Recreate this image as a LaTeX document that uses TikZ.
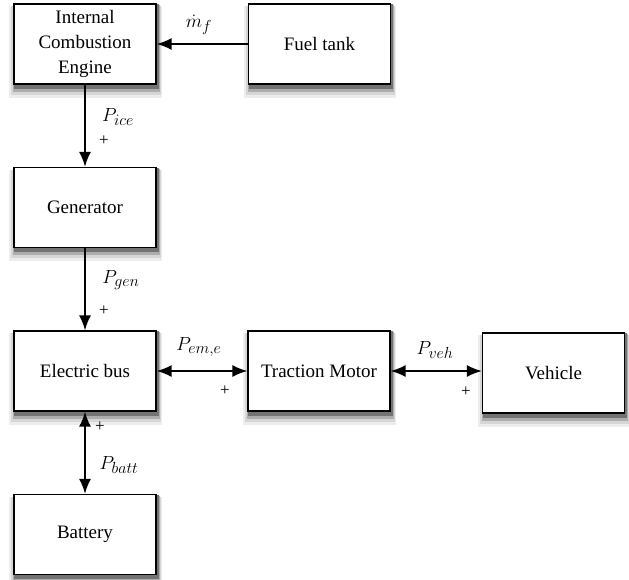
\documentclass[tikz,border=0pt]{standalone}
\usepackage{fix-cm}
\usepackage{fontspec}
\setmainfont{Liberation Serif}
\DeclareMathSizes{19}{19}{16}{12}
\usetikzlibrary{arrows.meta,positioning,backgrounds}
\tikzset{
  block/.style={draw=black, line width=1.4pt, fill=white,
                minimum width=142pt, minimum height=80pt,
                inner sep=2pt, align=center,
                font=\fontsize{19}{25}\selectfont},
  flow/.style={-{Latex[length=15pt,width=12pt]}, line width=1.5pt},
  both/.style={{Latex[length=15pt,width=12pt]}-{Latex[length=15pt,width=12pt]},
               line width=1.5pt},
  lab/.style={font=\fontsize{19}{22}\selectfont},
  sign/.style={font=\fontsize{17}{17}\selectfont},
}
\begin{document}
\begin{tikzpicture}[x=1pt,y=-1pt]
  \path[use as bounding box] (0,0) rectangle (629,580);

  % Blocks.
  \node[block] (ICE) at (85,44) {Internal\\Combustion\\Engine};
  \node[block] (FUEL) at (319.5,44) {Fuel tank};
  \node[block] (GEN) at (85,207.5) {Generator};
  \node[block] (BUS) at (85,371) {Electric bus};
  \node[block] (TM) at (319,371) {Traction Motor};
  \node[block] (VEH) at (553.5,373) {Vehicle};
  \node[block] (BATT) at (85,534.5) {Battery};

  % Soft shadows under the blocks.
  \begin{scope}[on background layer]
    \foreach \b in {ICE,FUEL,GEN,BUS,TM,VEH,BATT} {
      \fill[black!7]  ([shift={(-4,3)}]\b.north west) rectangle ([shift={(5,13)}]\b.south east);
      \fill[black!16] ([shift={(-2,3)}]\b.north west) rectangle ([shift={(4,10)}]\b.south east);
      \fill[black!32] ([shift={(0,2)}]\b.north west) rectangle ([shift={(3,7)}]\b.south east);
      \fill[black!55] ([shift={(1,1)}]\b.north west) rectangle ([shift={(2,4)}]\b.south east);
    }
  \end{scope}

  % Power and fuel flows.
  \draw[flow] (FUEL.west) -- (ICE.east);
  \draw[flow] (ICE.south) -- (GEN.north);
  \draw[flow] (GEN.south) -- (BUS.north);
  \draw[both] (BUS.east) -- (TM.west);
  \draw[both] (TM.east) -- (TM.east -| VEH.west);
  \draw[both] (BUS.south) -- (BATT.north);

  % Labels and sign conventions.
  \node[lab] (MF) at (199,25) {$\dot m_f$};
  \node[lab] (PICE) at (118,117) {$P_{ice}$};
  \node[sign] (SICE) at (104,141) {+};
  \node[lab] (PGEN) at (121,280) {$P_{gen}$};
  \node[sign] (SGEN) at (104,311) {+};
  \node[lab] (PEM) at (199,347) {$P_{em,e}$};
  \node[sign] (SEM) at (225,391) {+};
  \node[lab] (PVEH) at (435,350) {$P_{veh}$};
  \node[sign] (SVEH) at (466,392) {+};
  \node[sign] (SBATT) at (100,427) {+};
  \node[lab] (PBATT) at (119,465) {$P_{batt}$};
\end{tikzpicture}
\end{document}
